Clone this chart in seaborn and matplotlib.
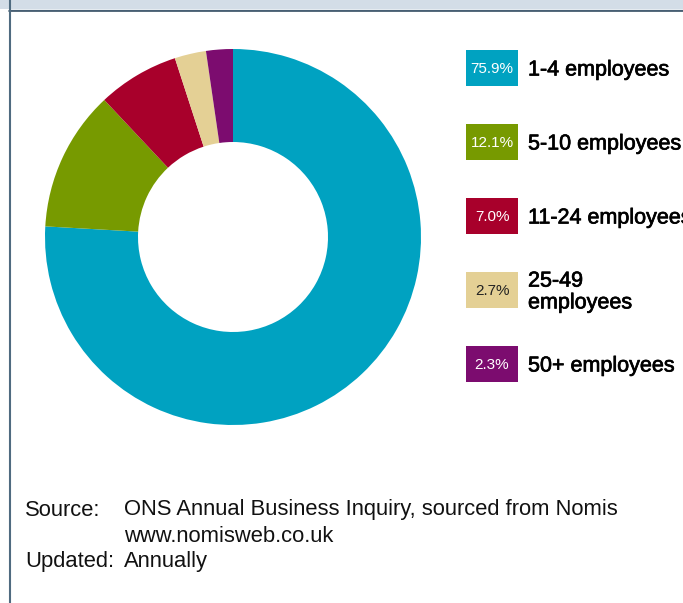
import matplotlib
matplotlib.use("Agg")
import matplotlib.pyplot as plt
import matplotlib.patheffects as pe
from matplotlib.patches import Rectangle
import seaborn as sns

# --- Daten ---
size_bands = ["1-4 employees", "5-10 employees", "11-24 employees",
              "25-49\nemployees", "50+ employees"]
shares = [75.9, 12.1, 7.0, 2.7, 2.3]
band_colors = ["#00a2c1", "#779a00", "#a8002b", "#e4d095", "#7c0c6f"]
box_text_colors = ["white", "white", "white", "#222222", "white"]

source_lines = ["ONS Annual Business Inquiry, sourced from Nomis",
                "www.nomisweb.co.uk"]
updated = "Annually"

sns.set_theme(style="white")
plt.rcParams['font.family'] = ['Liberation Sans', 'DejaVu Sans']

W, H = 683, 603
fig = plt.figure(figsize=(W / 100, H / 100), dpi=100)
fig.patch.set_facecolor("white")

# Rahmen / Kopfband in Pixelkoordinaten
bg = fig.add_axes([0, 0, 1, 1])
bg.set_xlim(0, W)
bg.set_ylim(H, 0)
bg.axis("off")
bg.add_patch(Rectangle((0, 0), W, 9, color="#d3dde7", lw=0))
bg.plot([9, W], [9.5, 9.5], color="#7f9bb3", lw=1)
bg.plot([9, W], [10.5, 10.5], color="#3c5468", lw=1.2)
bg.plot([9.5, 9.5], [0, H], color="#4f6b80", lw=1.5)

# --- Donut ---
cx, cy, r = 233, 237, 188
ax = fig.add_axes([(cx - r) / W, (H - cy - r) / H, 2 * r / W, 2 * r / H])
ax.pie(shares, colors=band_colors, startangle=90, counterclock=False,
       radius=1, wedgeprops=dict(width=1 - 95 / 188, linewidth=0))
ax.set_xlim(-1, 1)
ax.set_ylim(-1, 1)
ax.set_aspect("equal")
ax.axis("off")

# --- Legende ---
row_y0, row_step = 68, 74
halo = [pe.withStroke(linewidth=0.5, foreground="black")]
for i, (lab, val, col, tcol) in enumerate(zip(size_bands, shares, band_colors, box_text_colors)):
    y = row_y0 + i * row_step
    bg.add_patch(Rectangle((466, y - 18), 52, 36, color=col, lw=0))
    bg.text(492, y + 1, f"{val:.1f}%", color=tcol, fontsize=11,
            ha="center", va="center")
    bg.text(528, y + 2, lab, color="black", fontsize=15.5,
            ha="left", va="center", linespacing=1.05, path_effects=halo)

# --- Quelle ---
fs = 15.8
bg.text(25, 510, "Source:", fontsize=fs, color="#111111", va="center")
bg.text(124, 510, source_lines[0], fontsize=fs, color="#111111", va="center")
bg.text(124, 536, source_lines[1], fontsize=fs, color="#111111", va="center")
bg.text(25, 562, "Updated:", fontsize=fs, color="#111111", va="center")
bg.text(124, 562, updated, fontsize=fs, color="#111111", va="center")

fig.savefig("out.png", dpi=100)
